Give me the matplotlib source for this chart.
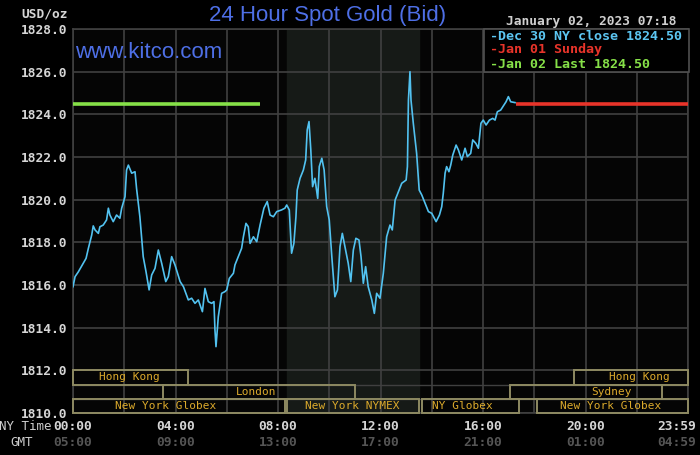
import matplotlib
matplotlib.use("Agg")
import matplotlib.pyplot as plt
from matplotlib.patches import Rectangle
from matplotlib.transforms import blended_transform_factory

# data to plot (hours since 00:00 NY time, price)
hours = [0.00, 0.08, 0.21, 0.40, 0.51, 0.60, 0.73, 0.79, 0.86, 0.99, 1.05, 1.18, 1.31, 1.38,
         1.44, 1.57, 1.70, 1.83, 1.90, 2.03, 2.09, 2.16, 2.29, 2.42, 2.48, 2.61, 2.74, 2.85,
         2.97, 3.07, 3.20, 3.33, 3.46, 3.62, 3.72, 3.85, 3.98, 4.18, 4.31, 4.50, 4.63, 4.76,
         4.89, 5.05, 5.15, 5.28, 5.41, 5.50, 5.54, 5.58, 5.67, 5.80, 5.93, 6.00, 6.10, 6.26,
         6.32, 6.45, 6.58, 6.65, 6.75, 6.84, 6.91, 7.04, 7.17, 7.30, 7.45, 7.58, 7.69, 7.82,
         7.95, 8.14, 8.27, 8.34, 8.44, 8.53, 8.62, 8.70, 8.75, 8.86, 8.99, 9.08, 9.14, 9.21,
         9.28, 9.35, 9.44, 9.55, 9.61, 9.71, 9.80, 9.90, 10.00, 10.10, 10.22, 10.32, 10.42,
         10.51, 10.61, 10.74, 10.84, 10.94, 11.04, 11.16, 11.24, 11.33, 11.42, 11.52, 11.66,
         11.76, 11.85, 11.98, 12.11, 12.24, 12.37, 12.46, 12.57, 12.70, 12.83, 13.00, 13.05,
         13.09, 13.15, 13.19, 13.28, 13.41, 13.51, 13.61, 13.74, 13.87, 14.00, 14.17, 14.30,
         14.39, 14.45, 14.52, 14.58, 14.67, 14.74, 14.82, 14.95, 15.04, 15.17, 15.30, 15.39,
         15.52, 15.60, 15.72, 15.82, 15.92, 16.01, 16.12, 16.25, 16.38, 16.47, 16.56, 16.69,
         16.82, 16.90, 16.99, 17.08, 17.25]
prices = [1815.92, 1816.39, 1816.62, 1817.02, 1817.25, 1817.72, 1818.34, 1818.77, 1818.58,
          1818.42, 1818.73, 1818.81, 1819.05, 1819.60, 1819.28, 1818.97, 1819.28, 1819.13,
          1819.60, 1820.14, 1821.39, 1821.62, 1821.24, 1821.31, 1820.53, 1819.20, 1817.33,
          1816.62, 1815.77, 1816.47, 1816.78, 1817.64, 1817.02, 1816.16, 1816.39, 1817.33,
          1816.94, 1816.16, 1815.92, 1815.30, 1815.38, 1815.14, 1815.30, 1814.75, 1815.84,
          1815.22, 1815.14, 1815.22, 1813.89, 1813.11, 1814.51, 1815.61, 1815.69, 1815.77,
          1816.31, 1816.55, 1816.94, 1817.33, 1817.72, 1818.26, 1818.89, 1818.73, 1817.95,
          1818.26, 1818.03, 1818.81, 1819.60, 1819.91, 1819.28, 1819.20, 1819.44, 1819.52,
          1819.60, 1819.75, 1819.52, 1817.49, 1817.95, 1819.20, 1820.45, 1821.00, 1821.39,
          1821.86, 1823.27, 1823.66, 1822.33, 1820.61, 1821.00, 1820.06, 1821.55, 1821.94,
          1821.39, 1819.67, 1819.05, 1817.33, 1815.45, 1815.77, 1817.80, 1818.42, 1817.80,
          1817.02, 1816.16, 1817.64, 1818.19, 1818.11, 1817.33, 1816.08, 1816.86, 1815.92,
          1815.30, 1814.67, 1815.61, 1815.38, 1816.55, 1818.26, 1818.81, 1818.58, 1819.98,
          1820.38, 1820.77, 1820.92, 1821.55, 1824.67, 1826.00, 1824.67, 1823.58, 1822.17,
          1820.45, 1820.22, 1819.83, 1819.44, 1819.36, 1818.97, 1819.28, 1819.67, 1820.30,
          1821.24, 1821.55, 1821.31, 1821.62, 1822.09, 1822.56, 1822.33, 1821.86, 1822.41,
          1822.02, 1822.17, 1822.80, 1822.64, 1822.41, 1823.58, 1823.73, 1823.50, 1823.73,
          1823.81, 1823.73, 1824.12, 1824.20, 1824.44, 1824.59, 1824.83, 1824.59, 1824.55]

ny_close = 1824.50
last_price = 1824.50
green_span = (0.0, 7.3)
red_span = (17.29, 24.0)
nymex_span = (8.35, 13.5)

# trading sessions: name, start, end, row (0 = top), label centre
sess_names = ["Hong Kong", "Hong Kong", "London", "Sydney",
              "New York Globex", "New York NYMEX", "NY Globex", "New York Globex"]
sess_start = [0.0, 19.55, 3.5, 17.05, 0.0, 8.35, 13.6, 18.1]
sess_end = [4.5, 24.0, 11.0, 23.0, 8.28, 13.5, 17.4, 24.0]
sess_row = [0, 0, 1, 1, 2, 2, 2, 2]
sess_label = [2.2, 22.1, 7.15, 21.0, 3.63, 10.9, 15.2, 21.0]

ny_ticks = [0, 4, 8, 12, 16, 20, 23.55]
ny_labels = ["00:00", "04:00", "08:00", "12:00", "16:00", "20:00", "23:59"]
gmt_labels = ["05:00", "09:00", "13:00", "17:00", "21:00", "01:00", "04:59"]

legend_lines = ["-Dec 30 NY close 1824.50", "-Jan 01 Sunday", "-Jan 02 Last 1824.50"]
legend_colors = ["#5cc6f2", "#e8342a", "#86e048"]

W, H = 700, 455
MONO = "DejaVu Sans Mono"
GRID = "#404040"

fig = plt.figure(figsize=(W / 100, H / 100), dpi=100, facecolor="black")
ax = fig.add_axes([73 / W, 1 - 413 / H, 615 / W, 384 / H])
ax.set_facecolor("#050505")
ax.set_xlim(0, 24)
ax.set_ylim(1810, 1828)

def fpx(x, y):
    return x / W, 1 - y / H

# NYMEX shading
ax.axvspan(nymex_span[0], nymex_span[1], color="#161a17", zorder=0)

# grid
for gx in range(0, 25, 2):
    ax.axvline(gx, color=GRID, lw=1.2, zorder=1)
for gy in range(1810, 1829, 2):
    ax.axhline(gy, color=GRID, lw=1.2, zorder=1)
row_h = 2 / 3
for k in (1, 2):
    ax.axhline(1812 - k * row_h, color=GRID, lw=1.0, zorder=1)

for s in ax.spines.values():
    s.set_color(GRID)
    s.set_linewidth(1.2)

# price lines
ax.plot(green_span, [last_price, last_price], color="#86e048", lw=2.6, zorder=3,
        solid_capstyle="butt")
ax.plot(red_span, [ny_close, ny_close], color="#e8342a", lw=2.6, zorder=3,
        solid_capstyle="butt")
ax.plot(hours, prices, color="#52c2f0", lw=1.2, zorder=4)

# session boxes
for name, s0, s1, r, lx in zip(sess_names, sess_start, sess_end, sess_row, sess_label):
    top = 1812 - r * row_h
    ax.add_patch(Rectangle((s0, top - row_h), s1 - s0, row_h, fill=False,
                           edgecolor="#8e8a62", lw=1.4, zorder=5, clip_on=False))
    ax.text(lx, top - row_h / 2, name, color="#dcaa2c", family=MONO, fontsize=8,
            ha="center", va="center", zorder=6)

# y ticks
ax.set_yticks(range(1810, 1829, 2))
ax.set_yticklabels([f"{v:.1f}" for v in range(1810, 1829, 2)], family=MONO,
                   fontsize=9.3, fontweight="bold", color="#d6d6d6")
ax.tick_params(axis="y", length=0, pad=4)
ax.set_xticks([])

# x labels, NY time and GMT rows
tr = blended_transform_factory(ax.transData, fig.transFigure)
for t, a, b in zip(ny_ticks, ny_labels, gmt_labels):
    ax.text(t, 1 - 426 / H, a, transform=tr, family=MONO, fontsize=9.3,
            fontweight="bold", color="#d6d6d6", ha="center", va="center")
    ax.text(t, 1 - 442 / H, b, transform=tr, family=MONO, fontsize=9.3,
            fontweight="bold", color="#555555", ha="center", va="center")
fig.text(*fpx(25, 427), "NY Time", family=MONO, fontsize=9, color="#cfcfcf",
         ha="center", va="center")
fig.text(*fpx(22, 442), "GMT", family=MONO, fontsize=9, color="#cfcfcf",
         ha="center", va="center")

# header texts
fig.text(*fpx(45, 14), "USD/oz", family=MONO, fontsize=9.3, fontweight="bold",
         color="#d6d6d6", ha="center", va="center")
fig.text(*fpx(328, 16), "24 Hour Spot Gold (Bid)", family="Liberation Sans",
         fontsize=16, color="#4e6fe6", ha="center", va="center")
fig.text(*fpx(149, 52), "www.kitco.com", family="Liberation Sans", fontsize=16,
         color="#4e6fe6", ha="center", va="center")
fig.text(*fpx(591, 21), "January 02, 2023 07:18", family=MONO, fontsize=9.3,
         fontweight="bold", color="#cfcfcf", ha="center", va="center")

# legend box
fig.patches.append(Rectangle(fpx(484, 72), 205 / W, 43 / H, transform=fig.transFigure,
                             facecolor="black", edgecolor="#505050", lw=1.2, zorder=10))
for i, (txt, c) in enumerate(zip(legend_lines, legend_colors)):
    fig.text(*fpx(490, 36 + i * 14), txt, family=MONO, fontsize=9.6, fontweight="bold",
             color=c, ha="left", va="center", zorder=11)

fig.savefig("out.png", dpi=100, facecolor="black")
